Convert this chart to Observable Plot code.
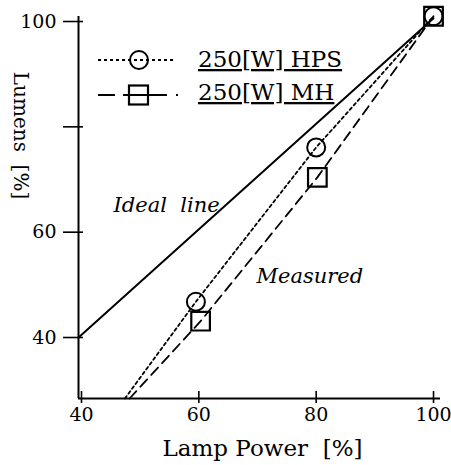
<!DOCTYPE html>
<html><head><meta charset="utf-8">
<script src="https://cdn.jsdelivr.net/npm/d3@7"></script>
<script src="https://cdn.jsdelivr.net/npm/@observablehq/plot@0.6"></script>
<style>body{margin:0;background:#fff}</style>
</head><body><div id="chart"></div>
<script>
// ---- data ----
const xTicks = [40, 60, 80, 100];
const yTicks = [40, 60, 80, 100];
const yTickLabels = ["40", "60", "", "100"];
const xDomain = [39.49, 101.19];
const yDomain = [28.42, 100.95];

const idealX = [39.5, 100];
const idealY = [40, 100.6];

// measured series: points with markers
const hpsX = [59.5, 80, 100];
const hpsY = [46.8, 76.1, 101];
const mhX = [60.3, 80.2, 100];
const mhY = [43.1, 70.4, 101];
// where each measured line meets the bottom of the plot
const hpsStart = {x: 47.4, y: 28.42};
const mhStart = {x: 48.2, y: 28.42};

const seriesNames = ["250[W] HPS", "250[W] MH"];
const xLabel = "Lamp Power\u00a0\u00a0[%]";
const yLabel = "Lumens\u00a0\u00a0[%]";
const annotations = ["Ideal\u00a0\u00a0line", "Measured"];

// ---- tables ----
const ideal = idealX.map((x, i) => ({x, y: idealY[i]}));
const hps = hpsX.map((x, i) => ({x, y: hpsY[i]}));
const mh = mhX.map((x, i) => ({x, y: mhY[i]}));
const hpsLine = [hpsStart, ...hps];
const mhLine = [mhStart, ...mh];

const font = "DejaVu Serif";
const W = 451, H = 465, mL = 78, mR = 11, mT = 16, mB = 67;
const fw = W - mL - mR, fh = H - mT - mB;

const plot = Plot.plot({
  width: W, height: H,
  marginLeft: mL, marginRight: mR, marginTop: mT, marginBottom: mB,
  x: {domain: xDomain},
  y: {domain: yDomain},
  style: {fontFamily: font, background: "white", color: "black"},
  marks: [
    Plot.ruleX([xDomain[0]], {stroke: "black", strokeWidth: 2}),
    Plot.ruleY([yDomain[0]], {stroke: "black", strokeWidth: 2}),
    Plot.axisX({ticks: xTicks, tickSize: 5, tickPadding: 4, fontSize: 19, label: null, strokeWidth: 1.6}),
    Plot.tickX(xTicks, {x: d => d, stroke: "black", strokeWidth: 1.6, insetTop: fh - 7}),
    Plot.axisY({ticks: yTicks, tickSize: 15, tickPadding: 7, fontSize: 19, label: null, strokeWidth: 1.6,
      tickFormat: d => yTickLabels[yTicks.indexOf(d)]}),
    Plot.tickY(yTicks, {y: d => d, stroke: "black", strokeWidth: 1.6, insetRight: fw - 5}),
    Plot.line(ideal, {x: "x", y: "y", stroke: "black", strokeWidth: 2}),
    Plot.line(hpsLine, {x: "x", y: "y", stroke: "black", strokeWidth: 1.8, strokeDasharray: "3,3"}),
    Plot.line(mhLine, {x: "x", y: "y", stroke: "black", strokeWidth: 1.8, strokeDasharray: "10,6"}),
    Plot.dot(hps, {x: "x", y: "y", r: 9, stroke: "black", strokeWidth: 2, fill: "none"}),
    Plot.dot(mh, {x: "x", y: "y", r: 10.5, symbol: "square", stroke: "black", strokeWidth: 2.2, fill: "none"}),
    Plot.text([annotations[0]], {frameAnchor: "top-left", dx: 35, dy: 189, textAnchor: "start", lineAnchor: "middle",
      fontSize: 21, fontStyle: "italic"}),
    Plot.text([annotations[1]], {frameAnchor: "top-left", dx: 178, dy: 260, textAnchor: "start", lineAnchor: "middle",
      fontSize: 21, fontStyle: "italic"}),
    Plot.text([xLabel], {frameAnchor: "bottom", dx: 3, dy: 50, lineAnchor: "middle", fontSize: 23})
  ]
});

// ---- legend and y label ----
const svg = d3.select(plot);
const g = svg.append("g").attr("fill", "none").attr("stroke", "black");
g.append("line").attr("x1", 98).attr("x2", 175).attr("y1", 60).attr("y2", 60)
  .attr("stroke-width", 1.8).attr("stroke-dasharray", "3,3");
g.append("circle").attr("cx", 139).attr("cy", 60).attr("r", 9).attr("stroke-width", 2);
g.append("line").attr("x1", 98).attr("x2", 178).attr("y1", 95).attr("y2", 95)
  .attr("stroke-width", 1.8).attr("stroke-dasharray", "17,8,44,9,2,20");
g.append("rect").attr("x", 129).attr("y", 85.5).attr("width", 19).attr("height", 19).attr("stroke-width", 2.2);
const lt = svg.append("g").attr("font-family", font).attr("font-size", 23).attr("fill", "black")
  .attr("text-anchor", "start");
seriesNames.forEach((s, i) => {
  lt.append("text").attr("x", 198).attr("y", i === 0 ? 67 : 100)
    .style("text-decoration", "underline").text(s);
});
svg.append("text").attr("font-family", font).attr("font-size", 20).attr("fill", "black")
  .attr("text-anchor", "middle")
  .attr("transform", "translate(14,135.5) rotate(90)")
  .text(yLabel);

document.getElementById("chart").appendChild(plot);
</script>
</body></html>
